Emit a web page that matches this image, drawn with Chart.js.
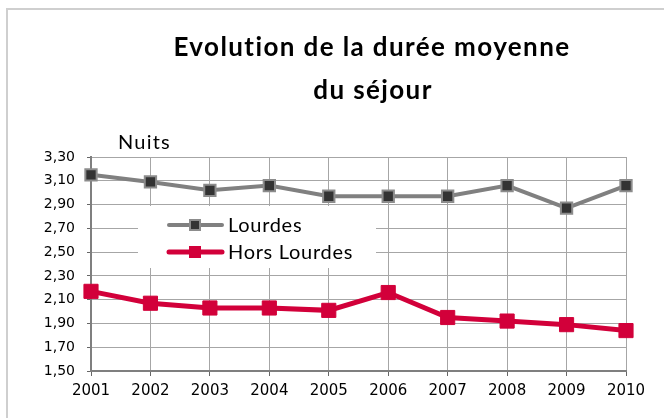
<!DOCTYPE html>
<html>
<head>
<meta charset="utf-8">
<script src="https://cdn.jsdelivr.net/npm/chart.js@4/dist/chart.umd.min.js"></script>
<style>
  html, body { margin: 0; padding: 0; background: #fff; overflow: hidden; }
  #cadre { position: absolute; left: 6px; top: 8px; width: 700px; height: 500px; border: 2px solid #cfcfcf; }
  #wrap { position: absolute; left: 0; top: 0; width: 664px; height: 418px; }
</style>
</head>
<body>
<div id="cadre"></div>
<div id="wrap"><canvas id="sejourChart"></canvas></div>
<script>
// Donnees
let annees = [ '2001', '2002', '2003', '2004', '2005', '2006', '2007', '2008', '2009', '2010' ];
let lourdes = [ 3.15, 3.09, 3.02, 3.06, 2.97, 2.97, 2.97, 3.06, 2.87, 3.06 ];
let horsLourdes = [ 2.17, 2.07, 2.03, 2.03, 2.01, 2.16, 1.95, 1.92, 1.89, 1.84 ];
let titreLignes = [ 'Evolution de la durée moyenne', 'du séjour' ];
let uniteY = 'Nuits';

let gris = '#808080';
let rouge = '#d2003a';

// Titre, unite et legende dessines sur le canvas
let textesPlugin = {
    id: 'textes',
    afterDraw: function ( chart )
    {
        let c = chart.ctx;
        let area = chart.chartArea;
        c.save();
        c.fillStyle = '#000';
        c.textAlign = 'center';
        c.textBaseline = 'middle';
        c.font = 'bold 26px Lato';
        c.letterSpacing = '1.4px';
        c.fillText( titreLignes[ 0 ], 372, 48 );
        c.fillText( titreLignes[ 1 ], 373, 91 );

        c.textAlign = 'left';
        c.font = '20px Lato';
        c.letterSpacing = '1.2px';
        c.fillText( uniteY, area.left + 27, 143 );

        // legende
        c.letterSpacing = '0.7px';
        c.fillStyle = '#fff';
        c.fillRect( 138, 206, 238, 62 );
        let rows = [ 225, 252 ];
        chart.data.datasets.forEach( function ( ds, i )
        {
            let y = rows[ i ];
            c.strokeStyle = ds.borderColor;
            c.lineWidth = ds.borderWidth;
            c.lineCap = 'round';
            c.beginPath();
            c.moveTo( 169, y );
            c.lineTo( 222, y );
            c.stroke();
            let s = i === 0 ? 10 : 12;
            c.fillStyle = ds.pointBackgroundColor;
            c.fillRect( 195 - s / 2, y - s / 2, s, s );
            if ( i === 0 )
            {
                c.strokeStyle = ds.pointBorderColor;
                c.lineWidth = 2;
                c.strokeRect( 195 - s / 2, y - s / 2, s, s );
            }
            c.fillStyle = '#000';
            c.font = '20px Lato';
            c.fillText( ds.label, 228, y + 1 );
        } );
        c.restore();
    }
};

let ctx = document.getElementById( 'sejourChart' ).getContext( '2d' );
let chart = new Chart( ctx, {
    type: 'line',
    data: {
        labels: annees,
        datasets: [ {
            label: 'Lourdes',
            data: lourdes,
            borderColor: gris,
            borderWidth: 4,
            pointStyle: 'rect',
            pointRadius: 8,
            pointBackgroundColor: '#333333',
            pointBorderColor: '#8c8c8c',
            pointBorderWidth: 2,
            tension: 0
        }, {
            label: 'Hors Lourdes',
            data: horsLourdes,
            borderColor: rouge,
            borderWidth: 5,
            pointStyle: 'rect',
            pointRadius: 10,
            pointBackgroundColor: rouge,
            pointBorderColor: rouge,
            pointBorderWidth: 1,
            tension: 0
        } ]
    },
    options: {
        responsive: true,
        maintainAspectRatio: false,
        animation: false,
        layout: { padding: { top: 157, right: 38, bottom: 0, left: 0 } },
        plugins: {
            legend: { display: false },
            title: { display: false },
            tooltip: { enabled: false }
        },
        scales: {
            x: {
                offset: false,
                grid: { color: '#a6a6a6', lineWidth: 1, tickLength: 5, drawTicks: true, tickColor: '#666' },
                border: { color: '#7f7f7f', width: 2 },
                ticks: {
                    color: '#000',
                    font: { family: 'DejaVu Sans', size: 15 },
                    padding: 6,
                    maxRotation: 0,
                    autoSkip: false
                },
                afterFit: function ( scale ) { scale.height = 47; }
            },
            y: {
                min: 1.5,
                max: 3.3,
                grid: { color: '#a6a6a6', lineWidth: 1, tickLength: 4, drawTicks: true, tickColor: '#666' },
                border: { color: '#7f7f7f', width: 2 },
                ticks: {
                    stepSize: 0.2,
                    color: '#000',
                    font: { family: 'DejaVu Sans', size: 14 },
                    padding: 12,
                    callback: function ( v ) { return v.toFixed( 2 ).replace( '.', ',' ); }
                },
                afterFit: function ( scale ) { scale.width = 91; }
            }
        }
    },
    plugins: [ textesPlugin ]
} );
</script>
</body>
</html>
